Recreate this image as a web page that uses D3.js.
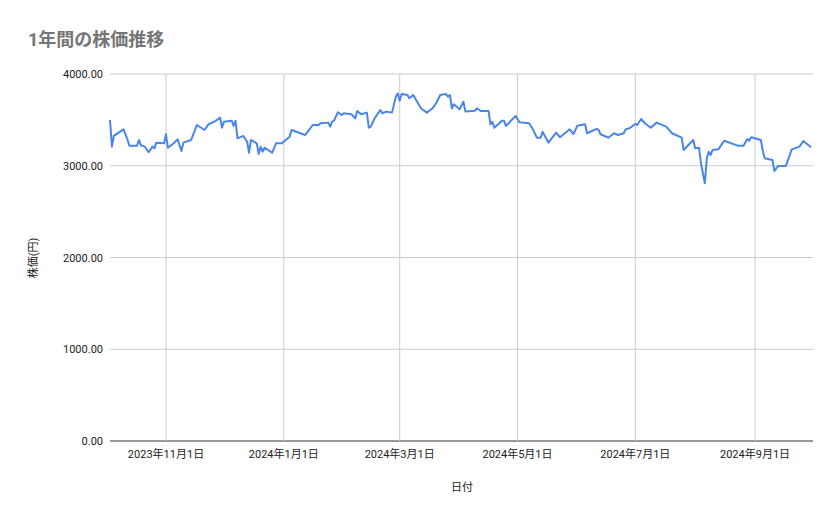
<!DOCTYPE html>
<html><head><meta charset="utf-8">
<script src="https://cdn.jsdelivr.net/npm/d3@7"></script>
<style>body{margin:0;background:#fff}text{font-family:Roboto,"Noto Sans CJK JP",sans-serif}</style>
</head><body><svg id="c" width="839" height="519"></svg>
<script>
const startDate = "2023-10-03";
const endDate = "2024-10-01";
const dayOffsets = [0,1,2,7,9,10,14,15,16,18,20,22,23,24,28,29,30,33,35,37,38,42,45,49,51,54,57,58,59,63,64,65,66,69,71,72,73,76,77,78,79,80,84,86,89,93,94,101,105,108,109,113,114,115,116,118,120,121,125,127,128,130,133,134,135,137,140,141,143,146,148,149,150,151,154,155,157,161,164,167,169,171,174,175,176,177,178,181,183,184,189,190,192,196,197,198,199,203,204,205,210,212,217,219,221,223,224,227,231,233,238,240,242,246,247,252,253,254,258,261,263,266,267,269,272,273,275,277,280,283,288,291,296,297,302,303,305,306,308,309,310,311,312,315,318,325,328,330,331,332,337,338,339,343,344,346,350,353,357,359,363];
const prices = [3499,3208,3325,3397,3288,3219,3219,3281,3223,3208,3147,3208,3190,3252,3245,3343,3197,3245,3288,3161,3252,3281,3444,3390,3452,3480,3524,3415,3480,3491,3434,3491,3299,3325,3262,3142,3281,3245,3128,3208,3153,3197,3142,3245,3245,3317,3390,3335,3444,3444,3463,3470,3426,3480,3491,3583,3553,3572,3561,3517,3597,3561,3579,3415,3426,3517,3608,3572,3590,3579,3753,3790,3709,3782,3771,3735,3771,3626,3579,3626,3687,3771,3782,3753,3771,3626,3670,3615,3698,3590,3600,3626,3597,3597,3452,3480,3415,3491,3491,3434,3543,3474,3463,3397,3306,3306,3371,3252,3361,3310,3397,3346,3437,3452,3354,3401,3390,3343,3306,3354,3335,3354,3397,3408,3455,3444,3510,3463,3415,3470,3426,3354,3306,3172,3281,3190,3197,3027,2809,3081,3153,3117,3172,3179,3273,3219,3219,3292,3273,3310,3281,3164,3081,3063,2943,2998,2998,3179,3208,3270,3201];
const xTicks = ["2023-11-01","2024-01-01","2024-03-01","2024-05-01","2024-07-01","2024-09-01"];
const yTicks = [0,1000,2000,3000,4000];
const title = "1年間の株価推移", xTitle = "日付", yTitle = "株価(円)";

const parse = d3.timeParse("%Y-%m-%d");
const s0 = parse(startDate);
const data = dayOffsets.map((o,i)=>({d:d3.timeDay.offset(s0,o), v:prices[i]}));
const svg = d3.select("#c");
const x = d3.scaleTime().domain([s0, parse(endDate)]).range([110,813]);
const y = d3.scaleLinear().domain([0,4000]).range([441,74]);

svg.append("g").selectAll("line").data(yTicks).join("line")
 .attr("x1",110).attr("x2",813).attr("y1",d=>y(d)).attr("y2",d=>y(d))
 .attr("stroke",d=>d===0?"#333":"#ccc").attr("stroke-width",1);
svg.append("g").selectAll("line").data(xTicks).join("line")
 .attr("x1",d=>x(parse(d))).attr("x2",d=>x(parse(d))).attr("y1",74).attr("y2",441)
 .attr("stroke","#ccc");
svg.append("g").selectAll("text").data(yTicks).join("text")
 .attr("x",103).attr("y",d=>y(d)+4).attr("text-anchor","end")
 .attr("font-size",11).attr("fill","#222").text(d=>d3.format(".2f")(d));
svg.append("g").selectAll("text").data(xTicks).join("text")
 .attr("x",d=>x(parse(d))).attr("y",458).attr("text-anchor","middle")
 .attr("font-size",11).attr("fill","#222")
 .text(d=>{const t=parse(d);return `${t.getFullYear()}年${t.getMonth()+1}月${t.getDate()}日`;});

svg.append("path").datum(data).attr("fill","none").attr("stroke","#4a86e8")
 .attr("stroke-width",2).attr("stroke-linejoin","round")
 .attr("d",d3.line().x(d=>x(d.d)).y(d=>y(d.v)));

svg.append("text").attr("x",28).attr("y",46).attr("font-size",18).attr("font-weight","bold")
 .attr("fill","#757575").text(title);
svg.append("text").attr("x",462).attr("y",491).attr("text-anchor","middle")
 .attr("font-size",11).attr("fill","#222").text(xTitle);
svg.append("text").attr("transform","translate(37,258) rotate(-90)").attr("text-anchor","middle")
 .attr("font-size",11).attr("fill","#222").text(yTitle);
</script></body></html>
